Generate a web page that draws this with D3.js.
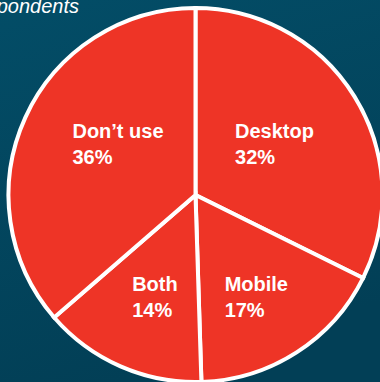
<!DOCTYPE html>
<html>
<head>
<meta charset="utf-8">
<script src="https://cdn.jsdelivr.net/npm/d3@7/dist/d3.min.js"></script>
<style>
  html, body { margin: 0; padding: 0; background: #02465e; }
  svg { display: block; }
</style>
</head>
<body>
<svg id="chart" width="380" height="382"></svg>
<script>
// Share of respondents by device used
const categories = ["Desktop", "Mobile", "Both", "Don\u2019t use"];
const values = [32, 17, 14, 36];
const valueLabels = ["32%", "17%", "14%", "36%"];
const subtitle = "% of respondents";

const W = 380, H = 382;
const cx = 195.5, cy = 195, R = 187;

// Label placement per slice: turn away from the slice midline (degrees)
// and distance from the centre (px)
const labelTurn = [-1, 2, -2, 9];
const labelDist = [94, 119, 110, 93];

const svg = d3.select("#chart");

// Background: deep teal with a gentle top-to-bottom fade
const defs = svg.append("defs");
const grad = defs.append("linearGradient")
  .attr("id", "bg").attr("x1", 0).attr("y1", 0).attr("x2", 0.3).attr("y2", 1);
grad.append("stop").attr("offset", "0%").attr("stop-color", "#034d67");
grad.append("stop").attr("offset", "100%").attr("stop-color", "#023f56");
svg.append("rect").attr("width", W).attr("height", H).attr("fill", "url(#bg)");

// Subtitle, running off the left edge
svg.append("text")
  .attr("x", 79).attr("y", 13)
  .attr("text-anchor", "end")
  .attr("font-family", "'Liberation Sans', Arial, sans-serif")
  .attr("font-style", "italic")
  .attr("font-size", 20)
  .attr("fill", "#ffffff")
  .text(subtitle);

const pie = d3.pie().sort(null).value(d => d)(values);
const arc = d3.arc().innerRadius(0).outerRadius(R);

const g = svg.append("g").attr("transform", `translate(${cx},${cy})`);

g.selectAll("path.slice")
  .data(pie)
  .join("path")
  .attr("class", "slice")
  .attr("d", arc)
  .attr("fill", "#ee3426")
  .attr("stroke", "#ffffff")
  .attr("stroke-width", 4)
  .attr("stroke-linejoin", "miter");

// Labels: two left-aligned lines, block centred on a point near the slice midline
const labelG = g.selectAll("g.label")
  .data(pie)
  .join("g")
  .attr("class", "label");

labelG.each(function(d, i) {
  const a = (d.startAngle + d.endAngle) / 2 + labelTurn[i] * Math.PI / 180;
  const lx = Math.sin(a) * labelDist[i];
  const ly = -Math.cos(a) * labelDist[i];
  const grp = d3.select(this);
  const t1 = grp.append("text").text(categories[i]);
  const t2 = grp.append("text").text(valueLabels[i]);
  grp.selectAll("text")
    .attr("font-family", "'Liberation Sans', Arial, sans-serif")
    .attr("font-weight", "bold")
    .attr("font-size", 20)
    .attr("fill", "#ffffff");
  const w = Math.max(t1.node().getComputedTextLength(), t2.node().getComputedTextLength());
  const x0 = lx - w / 2;
  // block from cap top of line 1 to baseline of line 2 is ~40px
  t1.attr("x", x0).attr("y", ly - 6);
  t2.attr("x", x0).attr("y", ly + 20);
});
</script>
</body>
</html>
